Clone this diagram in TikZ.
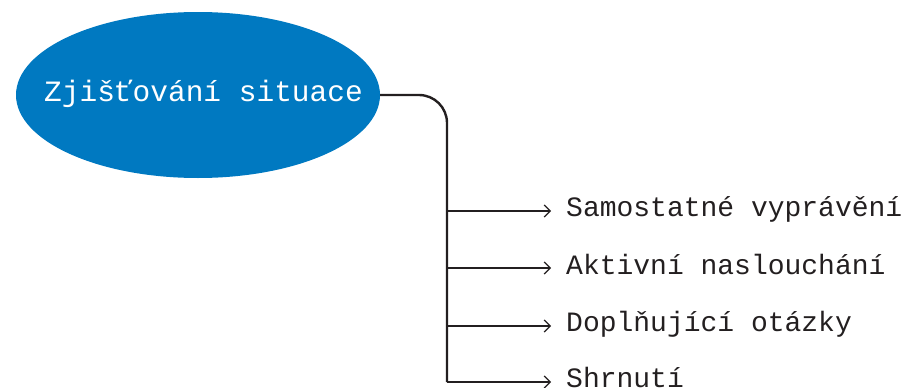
\documentclass[tikz,border=0pt]{standalone}
\usepackage{fontspec}
\setmonofont{Liberation Mono}
\usetikzlibrary{shapes.geometric,arrows.meta}
\definecolor{ellblue}{RGB}{0,121,193}
\definecolor{ink}{RGB}{35,31,32}
\tikzset{
  bubble/.style={ellipse, fill=ellblue, draw=none, minimum width=364pt, minimum height=166pt, inner sep=0pt},
  bubbletext/.style={anchor=base west, inner sep=0pt, text=white, font=\ttfamily\fontsize{29.5}{31}\selectfont},
  label/.style={anchor=base west, inner sep=0pt, text=ink, font=\ttfamily\fontsize{28}{30}\selectfont},
  trunk/.style={draw=ink, line width=2.4pt, rounded corners=28pt},
  branch/.style={draw=ink, line width=1.2pt, -{Straight Barb[length=6pt,width=12pt,line width=1.2pt]}, shorten >=15pt}
}
\begin{document}
\begin{tikzpicture}[x=1pt,y=1pt]
\useasboundingbox (0,0) rectangle (908,-388);
\node[bubble] (e) at (198,-95) {};
\node[bubbletext] (t) at (44,-101) {Zjišťování situace};
\coordinate (b1) at (447,-211);
\coordinate (b2) at (447,-268);
\coordinate (b3) at (447,-326);
\coordinate (b4) at (447,-382);
\node[label] (l1) at (566,-216.5) {Samostatné vyprávění};
\node[label] (l2) at (566,-274) {Aktivní naslouchání};
\node[label] (l3) at (566,-331.5) {Doplňující otázky};
\node[label] (l4) at (566,-387.5) {Shrnutí};
\draw[trunk] (e.east) -- (447,-95) -- (b4);
\draw[branch] (b1) -- (b1 -| l1.west);
\draw[branch] (b2) -- (b2 -| l2.west);
\draw[branch] (b3) -- (b3 -| l3.west);
\draw[branch] (b4) -- (b4 -| l4.west);
\end{tikzpicture}
\end{document}
